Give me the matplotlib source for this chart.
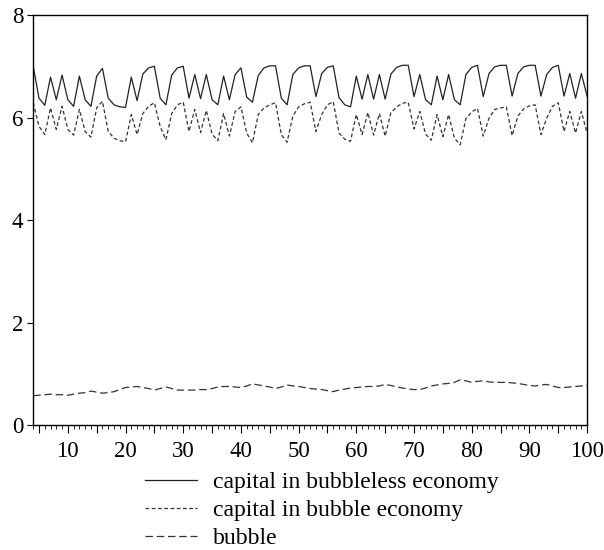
import numpy as np
import matplotlib as mpl
mpl.use('Agg')
import matplotlib.pyplot as plt
from matplotlib.ticker import MultipleLocator

plt.rcParams['font.family'] = ['Liberation Serif', 'DejaVu Serif']

period = np.arange(4, 101)

# capital in bubbleless economy
k_nobubble = [
    7.00, 6.38, 6.24, 6.79, 6.35, 6.83, 6.35, 6.22, 6.81, 6.35,
    6.22, 6.81, 6.96, 6.38, 6.25, 6.21, 6.20, 6.79, 6.33, 6.85,
    6.97, 7.00, 6.38, 6.25, 6.83, 6.97, 7.00, 6.38, 6.84, 6.37,
    6.84, 6.35, 6.25, 6.81, 6.35, 6.84, 6.97, 6.40, 6.30, 6.82,
    6.97, 7.01, 7.01, 6.38, 6.25, 6.84, 6.97, 7.01, 7.01, 6.41,
    6.86, 6.98, 7.01, 6.39, 6.25, 6.21, 6.81, 6.36, 6.84, 6.36,
    6.84, 6.36, 6.85, 6.98, 7.02, 7.02, 6.41, 6.84, 6.35, 6.25,
    6.81, 6.35, 6.84, 6.35, 6.25, 6.84, 6.98, 7.02, 6.41, 6.86,
    6.99, 7.02, 7.02, 6.42, 6.86, 6.99, 7.02, 7.02, 6.42, 6.84,
    6.98, 7.02, 6.42, 6.86, 6.38, 6.86, 6.42,
]

# capital in bubble economy
k_bubble = [
    6.29, 5.83, 5.67, 6.19, 5.77, 6.22, 5.77, 5.66, 6.16, 5.73,
    5.62, 6.19, 6.32, 5.73, 5.60, 5.55, 5.53, 6.06, 5.67, 6.08,
    6.22, 6.29, 5.83, 5.57, 6.08, 6.25, 6.30, 5.73, 6.16, 5.71,
    6.14, 5.68, 5.55, 6.08, 5.64, 6.12, 6.21, 5.70, 5.51, 6.06,
    6.19, 6.25, 6.29, 5.67, 5.52, 6.03, 6.21, 6.27, 6.30, 5.73,
    6.06, 6.25, 6.31, 5.70, 5.58, 5.54, 6.06, 5.67, 6.10, 5.66,
    6.08, 5.64, 6.10, 6.21, 6.28, 6.30, 5.78, 6.12, 5.68, 5.56,
    6.06, 5.63, 6.06, 5.60, 5.47, 5.98, 6.11, 6.18, 5.64, 5.99,
    6.16, 6.19, 6.21, 5.65, 6.03, 6.17, 6.23, 6.25, 5.67, 5.99,
    6.22, 6.29, 5.73, 6.12, 5.70, 6.12, 5.70,
]

# bubble
bubble = [
    0.58, 0.59, 0.60, 0.61, 0.60, 0.60, 0.59, 0.61, 0.63, 0.64,
    0.67, 0.65, 0.63, 0.64, 0.66, 0.70, 0.74, 0.75, 0.76, 0.74,
    0.72, 0.69, 0.72, 0.75, 0.72, 0.69, 0.69, 0.69, 0.69, 0.70,
    0.70, 0.72, 0.75, 0.76, 0.76, 0.75, 0.74, 0.77, 0.81, 0.79,
    0.77, 0.75, 0.72, 0.75, 0.79, 0.77, 0.76, 0.74, 0.72, 0.71,
    0.70, 0.68, 0.66, 0.69, 0.71, 0.73, 0.74, 0.75, 0.76, 0.76,
    0.77, 0.80, 0.78, 0.75, 0.73, 0.71, 0.70, 0.70, 0.73, 0.77,
    0.79, 0.81, 0.82, 0.84, 0.89, 0.87, 0.84, 0.86, 0.87, 0.85,
    0.84, 0.84, 0.84, 0.83, 0.82, 0.80, 0.78, 0.77, 0.79, 0.80,
    0.77, 0.74, 0.74, 0.75, 0.76, 0.77, 0.78,
]

labels = ['capital in bubbleless economy', 'capital in bubble economy', 'bubble']

fig = plt.figure(figsize=(6.04, 5.5), dpi=100)
ax = fig.add_axes([0.055, 0.2264, 0.917, 0.7463])

l1, = ax.plot(period, k_nobubble, color='#222222', lw=0.9)
l2, = ax.plot(period, k_bubble, color='#333333', lw=0.9, linestyle=(0, (3, 2)))
l3, = ax.plot(period, bubble, color='#333333', lw=0.9, linestyle=(0, (6, 3)))

ax.set_xlim(4, 100)
ax.set_ylim(0, 8)
ax.xaxis.set_minor_locator(MultipleLocator(1))
ax.set_xticks(np.arange(5, 101, 5))
ax.set_xticklabels([str(t) if t % 10 == 0 else '' for t in range(5, 101, 5)])
ax.set_yticks([0, 2, 4, 6, 8])
ax.tick_params(axis='x', which='major', length=6, width=0.8, pad=5, labelsize=16.5)
ax.tick_params(axis='x', which='minor', length=3, width=0.6)
ax.tick_params(axis='y', length=4, width=0.8, pad=3, labelsize=16.5)
for s in ax.spines.values():
    s.set_linewidth(1.0)

fig.legend([l1, l2, l3], labels, loc='upper left', bbox_to_anchor=(0.225, 0.16),
           frameon=False, fontsize=17, handlelength=2.2, handletextpad=0.68,
           labelspacing=0.28, borderaxespad=0)

fig.savefig('out.png', dpi=100)
